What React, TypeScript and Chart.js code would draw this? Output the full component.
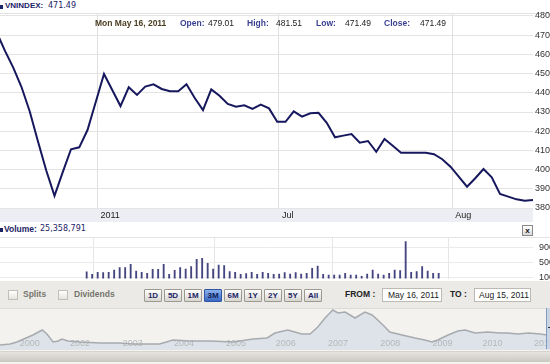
import React, { useEffect, useRef } from "react";
import { Chart, registerables } from "chart.js";
Chart.register(...registerables);

// ---------------- data ----------------
const tradingDates = [
  "2011-05-16","2011-05-17","2011-05-18","2011-05-19","2011-05-20","2011-05-23","2011-05-24","2011-05-25","2011-05-26","2011-05-27","2011-05-30","2011-05-31",
  "2011-06-01","2011-06-02","2011-06-03","2011-06-06","2011-06-07","2011-06-08","2011-06-09","2011-06-10","2011-06-13","2011-06-14","2011-06-15","2011-06-16","2011-06-17","2011-06-20","2011-06-21","2011-06-22","2011-06-23","2011-06-24","2011-06-27","2011-06-28","2011-06-29","2011-06-30",
  "2011-07-01","2011-07-04","2011-07-05","2011-07-06","2011-07-07","2011-07-08","2011-07-11","2011-07-12","2011-07-13","2011-07-14","2011-07-15","2011-07-18","2011-07-19","2011-07-20","2011-07-21","2011-07-22","2011-07-25","2011-07-26","2011-07-27","2011-07-28","2011-07-29",
  "2011-08-01","2011-08-02","2011-08-03","2011-08-04","2011-08-05","2011-08-08","2011-08-09","2011-08-10","2011-08-11","2011-08-12","2011-08-15"
];

const closes = [
  471.49, 461.8, 453.1, 443.0, 430.3, 414.6, 399.5, 386.3, 398.7, 410.6, 411.6, 420.6,
  435.2, 449.8, 441.5, 433.1, 442.9, 438.9, 443.2, 444.4, 442.0, 440.8, 440.8, 444.4, 437.3, 431.0, 441.8, 438.5, 434.2, 432.8, 433.5, 431.6, 433.8, 431.9,
  424.9, 424.9, 430.3, 427.6, 429.3, 429.6, 424.4, 416.8, 417.7, 418.5, 414.0, 414.9, 409.3, 415.9, 412.4, 408.8, 408.8, 408.8, 408.8, 408.0, 405.4,
  401.5, 396.3, 391.1, 395.5, 400.3, 396.0, 387.3, 385.9, 384.5, 383.8, 384.2
];

// volume, millions of shares
const volumes = [
  25.36, 18.9, 24.2, 23.4, 24.2, 30.2, 36.5, 36.5, 45.2, 27.6, 24.2, 21.6,
  32.1, 32.1, 45.2, 18.9, 29.4, 36.5, 32.9, 39.2, 58.4, 61.0, 47.9, 32.9, 43.4, 41.8, 26.0, 24.2, 18.9, 20.8, 24.2, 18.9, 24.2, 21.6,
  18.9, 19.7, 23.4, 19.7, 23.4, 19.7, 21.6, 34.7, 40.8, 18.9, 17.1, 17.1, 17.1, 21.6, 17.1, 17.1, 13.7, 19.7, 30.2, 19.7, 17.1,
  21.6, 30.2, 28.7, 105, 24.2, 26.0, 39.2, 27.6, 21.6, 21.6, null
];

const priceTicks = [380, 390, 400, 410, 420, 430, 440, 450, 460, 470, 480];
const monthLabels = ["2011", "Jul", "Aug"];
const volumeTicks = [10, 50, 90];
const volumeTickLabels = ["100", "500", "900"];

const navYears = [2000.61, 2000.81, 2000.94, 2001.25, 2001.43, 2001.52, 2001.64, 2001.74, 2001.81, 2001.93, 2002.16, 2002.55, 2002.93, 2003.19, 2003.5, 2003.7, 2003.96, 2004.29, 2004.68, 2005.12, 2005.51, 2005.78, 2005.93, 2006.18, 2006.45, 2006.61, 2006.76, 2006.9, 2007.05, 2007.15, 2007.29, 2007.48, 2007.67, 2007.81, 2007.92, 2008.06, 2008.15, 2008.39, 2008.64, 2008.83, 2008.97, 2009.08, 2009.28, 2009.47, 2009.61, 2009.8, 2010.05, 2010.28, 2010.43, 2010.63, 2010.83, 2011.06, 2011.2, 2011.37, 2011.62];
const navValues = [120, 150, 210, 420, 570, 450, 210, 240, 300, 240, 210, 180, 180, 150, 150, 150, 270, 240, 240, 210, 300, 330, 480, 570, 450, 450, 660, 930, 1170, 1080, 1110, 930, 1110, 1020, 870, 660, 510, 420, 330, 270, 210, 270, 420, 540, 570, 480, 510, 480, 480, 450, 480, 450, 420, 470, 384];
const navTickPos = [2001.19, 2002.16, 2003.18, 2004.17, 2005.18, 2006.14, 2007.15, 2008.16, 2009.17, 2010.14, 2011.13];
const navTickLabels = ["2000", "2002", "2003", "2004", "2005", "2006", "2007", "2008", "2009", "2010", "2011"];

const rangeButtons = ["1D", "5D", "1M", "3M", "6M", "1Y", "2Y", "5Y", "All"];
const selectedRange = "3M";

// ---------------- layout / style ----------------
const CW = 600; // canvas width (page clips at 550)
const PLOT_RIGHT = 533;
const X_MIN = 0.394;
const X_MAX = 65.0;
const GRID_SHIFT = 0.2;
const SANS = "'Liberation Sans', Arial, sans-serif";
const VERD = "'DejaVu Sans', Verdana, sans-serif";
const NAVY = "#1b2466";

const monthStartIdx = tradingDates
  .map((d, i) => (i > 0 && d.slice(5, 7) !== tradingDates[i - 1].slice(5, 7) ? i : -1))
  .filter((i) => i >= 0);

const axisBand = {
  id: "axisBand",
  beforeDraw(chart: any) {
    const { ctx, chartArea } = chart;
    ctx.save();
    ctx.fillStyle = "#eceef3";
    ctx.fillRect(chartArea.left, chartArea.bottom, chartArea.right - chartArea.left, 14);
    ctx.restore();
  },
};

const navLabelPlugin = {
  id: "navLabels",
  afterDatasetDraw(chart: any, args: any) {
    if (args.index !== 1) return;
    const xs = chart.scales.x;
    const ctx = chart.ctx;
    ctx.save();
    ctx.font = `9px ${SANS}`;
    ctx.fillStyle = "#b4b8bc";
    ctx.textAlign = "center";
    ctx.textBaseline = "middle";
    navTickPos.forEach((p, i) => ctx.fillText(navTickLabels[i], xs.getPixelForValue(p), 36));
    ctx.restore();
  },
};

const Txt = ({ x, y, s, st }: any) => (
  <div style={{ position: "absolute", left: x, top: y - 6, height: 12, lineHeight: "12px", whiteSpace: "nowrap", ...st }}>{s}</div>
);

const fitRight = (s: any) => {
  s.width = CW - PLOT_RIGHT;
  s.paddingTop = 0;
  s.paddingBottom = 0;
};

export default function App() {
  const mainRef = useRef<HTMLCanvasElement>(null);
  const volRef = useRef<HTMLCanvasElement>(null);
  const navRef = useRef<HTMLCanvasElement>(null);

  useEffect(() => {
    const monthTickObjs = () => monthStartIdx.map((i) => ({ value: i + GRID_SHIFT }));

    const main = new Chart(mainRef.current!, {
      type: "line",
      data: {
        datasets: [
          {
            data: closes.map((v, i) => ({ x: i, y: v })),
            borderColor: "#16175c",
            borderWidth: 2,
            pointRadius: 0,
            tension: 0,
            fill: false,
          },
        ],
      },
      options: {
        animation: false,
        responsive: false,
        devicePixelRatio: 1,
        layout: { padding: { top: 3, left: 0, right: 0, bottom: 0 } },
        plugins: { legend: { display: false }, tooltip: { enabled: false } },
        scales: {
          x: {
            type: "linear",
            min: X_MIN,
            max: X_MAX,
            afterBuildTicks: (s: any) => { s.ticks = monthTickObjs(); },
            afterFit: (s: any) => { s.height = 14; s.paddingLeft = 0; s.paddingRight = 0; },
            ticks: {
              autoSkip: false,
              maxRotation: 0,
              align: "start",
              labelOffset: 3,
              padding: 2,
              color: "#222",
              font: { family: SANS, size: 9 },
              callback: (_v: any, idx: number) => monthLabels[idx],
            },
            grid: { color: "#e0e0e0", drawTicks: false },
            border: { display: false },
          },
          y: {
            position: "right",
            min: 380,
            max: 481.5625,
            afterBuildTicks: (s: any) => { s.ticks = priceTicks.map((v) => ({ value: v })); },
            afterFit: fitRight,
            ticks: { padding: 2, color: "#333", font: { family: SANS, size: 9 } },
            grid: { color: "#e4e4e4", drawTicks: false },
            border: { display: false },
          },
        },
      } as any,
      plugins: [axisBand],
    });

    const vol = new Chart(volRef.current!, {
      type: "bar",
      data: {
        datasets: [
          {
            data: volumes.map((v, i) => ({ x: i, y: v })),
            backgroundColor: "#45457f",
            barThickness: 1.2,
          },
        ],
      },
      options: {
        animation: false,
        responsive: false,
        devicePixelRatio: 1,
        layout: { padding: { top: 0, left: 0, right: 0, bottom: 3.5 } },
        plugins: { legend: { display: false }, tooltip: { enabled: false } },
        scales: {
          x: {
            type: "linear",
            min: X_MIN,
            max: X_MAX,
            afterBuildTicks: (s: any) => { s.ticks = monthTickObjs(); },
            afterFit: (s: any) => { s.height = 0; s.paddingLeft = 0; s.paddingRight = 0; },
            ticks: { display: false },
            grid: { color: "#e6e6e6", drawTicks: false },
            border: { display: false },
          },
          y: {
            position: "right",
            min: 7.9,
            max: 114.5,
            afterBuildTicks: (s: any) => { s.ticks = volumeTicks.map((v) => ({ value: v })); },
            afterFit: fitRight,
            ticks: {
              padding: 6,
              color: "#333",
              font: { family: SANS, size: 9 },
              callback: (_v: any, idx: number) => volumeTickLabels[idx] + "M",
            },
            grid: { color: "#ebebeb", drawTicks: false },
            border: { display: false },
          },
        },
      } as any,
    });

    const nav = new Chart(navRef.current!, {
      type: "line",
      data: {
        datasets: [
          {
            data: navYears.map((x, i) => ({ x, y: navValues[i] })),
            borderColor: "#a7abaf",
            borderWidth: 1.5,
            pointRadius: 0,
            tension: 0,
            fill: false,
          },
          {
            data: navYears.map((x, i) => ({ x, y: navValues[i] })),
            borderWidth: 0,
            pointRadius: 0,
            tension: 0,
            fill: "start",
            backgroundColor: "#dde3e8",
          },
        ],
      },
      options: {
        animation: false,
        responsive: false,
        devicePixelRatio: 1,
        layout: { padding: 0 },
        plugins: { legend: { display: false }, tooltip: { enabled: false } },
        scales: {
          x: { type: "linear", display: false, min: 2000.613, max: 2000.613 + CW / 51.7 },
          y: { display: false, min: -30, max: 1230 },
        },
      } as any,
      plugins: [navLabelPlugin],
    });

    return () => {
      main.destroy();
      vol.destroy();
      nav.destroy();
    };
  }, []);

  const btnBase: any = {
    position: "absolute",
    top: 289,
    width: 18,
    height: 13,
    boxSizing: "border-box",
    border: "1px solid #9c9991",
    borderRadius: 1,
    font: `bold 8px ${SANS}`,
    lineHeight: "11px",
    textAlign: "center",
    color: NAVY,
  };

  return (
    <div style={{ position: "absolute", left: 0, top: 0, width: 550, height: 364, overflow: "hidden", background: "#fff", fontFamily: SANS }}>
      {/* header */}
      <div style={{ position: "absolute", left: 0, top: 5, width: 3, height: 4, background: NAVY }} />
      <Txt x={5} y={7} s="VNINDEX:" st={{ font: `bold 8px ${SANS}`, color: NAVY }} />
      <Txt x={48} y={7} s="471.49" st={{ font: `8px ${VERD}`, color: NAVY }} />
      <div style={{ position: "absolute", left: 0, top: 13, width: 550, height: 1, background: "#e2e2e2" }} />

      {/* main chart */}
      <canvas ref={mainRef} width={CW} height={212} style={{ position: "absolute", left: 0, top: 10 }} />

      {/* info row */}
      <Txt x={95} y={24} s="Mon May 16, 2011" st={{ font: `bold 8.5px ${SANS}`, color: "#4b3d22" }} />
      <Txt x={180} y={24} s="Open:" st={{ font: `bold 8.5px ${SANS}`, color: "#3a3f92" }} />
      <Txt x={208} y={24} s="479.01" st={{ font: `8.5px ${SANS}`, color: "#222" }} />
      <Txt x={247} y={24} s="High:" st={{ font: `bold 8.5px ${SANS}`, color: "#3a3f92" }} />
      <Txt x={276} y={24} s="481.51" st={{ font: `8.5px ${SANS}`, color: "#222" }} />
      <Txt x={316} y={24} s="Low:" st={{ font: `bold 8.5px ${SANS}`, color: "#3a3f92" }} />
      <Txt x={345} y={24} s="471.49" st={{ font: `8.5px ${SANS}`, color: "#222" }} />
      <Txt x={384} y={24} s="Close:" st={{ font: `bold 8.5px ${SANS}`, color: "#3a3f92" }} />
      <Txt x={420} y={24} s="471.49" st={{ font: `8.5px ${SANS}`, color: "#222" }} />

      {/* volume header */}
      <div style={{ position: "absolute", left: 0, top: 228, width: 3, height: 4, background: NAVY }} />
      <Txt x={4} y={230} s="Volume:" st={{ font: `bold 8.5px ${SANS}`, color: NAVY }} />
      <Txt x={40} y={230} s="25,358,791" st={{ font: `8px ${VERD}`, color: NAVY }} />
      <div style={{ position: "absolute", left: 522, top: 225, width: 11, height: 11, boxSizing: "border-box", border: "1px solid #8a8a8a", background: "linear-gradient(#ffffff,#d8d8d8)", font: `bold 8px ${SANS}`, lineHeight: "9px", textAlign: "center", color: "#111" }}>x</div>
      <div style={{ position: "absolute", left: 0, top: 237, width: 550, height: 1, background: "#e4e4e4" }} />

      {/* volume chart */}
      <canvas ref={volRef} width={CW} height={44} style={{ position: "absolute", left: 0, top: 238 }} />

      {/* control bar */}
      <div style={{ position: "absolute", left: 0, top: 281, width: 550, height: 27, background: "#ebeae6" }} />
      <div style={{ position: "absolute", left: 8, top: 290, width: 10, height: 10, boxSizing: "border-box", border: "1px solid #c2bfb8", background: "linear-gradient(#ffffff,#e6e4df)" }} />
      <Txt x={23} y={295} s="Splits" st={{ font: `bold 8.5px ${SANS}`, color: "#77756d" }} />
      <div style={{ position: "absolute", left: 58, top: 290, width: 10, height: 10, boxSizing: "border-box", border: "1px solid #c2bfb8", background: "linear-gradient(#ffffff,#e6e4df)" }} />
      <Txt x={74} y={295} s="Dividends" st={{ font: `bold 8.5px ${SANS}`, color: "#77756d" }} />
      {rangeButtons.map((b, k) => (
        <div
          key={b}
          style={{
            ...btnBase,
            left: 144 + k * 20,
            background: b === selectedRange ? "linear-gradient(#8db2ec,#3a68c4)" : "linear-gradient(#ffffff,#d8d6d0)",
            border: b === selectedRange ? "1px solid #2f55a0" : btnBase.border,
            color: b === selectedRange ? "#0c1d55" : NAVY,
          }}
        >
          {b}
        </div>
      ))}
      <Txt x={345} y={295} s="FROM :" st={{ font: `bold 8.5px ${SANS}`, color: "#222" }} />
      <div style={{ position: "absolute", left: 382, top: 288, width: 60, height: 14, boxSizing: "border-box", border: "1px solid #bdbab3", background: "#fff", font: `8.5px ${SANS}`, lineHeight: "12px", paddingLeft: 5, color: "#222", whiteSpace: "nowrap" }}>May 16, 2011</div>
      <Txt x={450} y={295} s="TO :" st={{ font: `bold 8.5px ${SANS}`, color: "#222" }} />
      <div style={{ position: "absolute", left: 474, top: 288, width: 57, height: 14, boxSizing: "border-box", border: "1px solid #bdbab3", background: "#fff", font: `8.5px ${SANS}`, lineHeight: "12px", paddingLeft: 4, color: "#222", whiteSpace: "nowrap" }}>Aug 15, 2011</div>

      {/* navigator */}
      <div style={{ position: "absolute", left: 0, top: 308, width: 550, height: 42, background: "#f3f2ef", borderTop: "1px solid #dcdad4", boxSizing: "border-box" }} />
      <canvas ref={navRef} width={CW} height={42} style={{ position: "absolute", left: 0, top: 308 }} />
      <div style={{ position: "absolute", left: 546, top: 308, width: 8, height: 41, boxSizing: "border-box", borderLeft: "1px solid #7f9bc0", background: "#c9d5e3" }} />
      <div style={{ position: "absolute", left: 548, top: 327, width: 3, height: 1, background: "#333" }} />

      {/* scrollbar */}
      <div style={{ position: "absolute", left: 0, top: 350, width: 550, height: 14, background: "#f4f3f0" }} />
      <div style={{ position: "absolute", left: 0, top: 351, width: 550, height: 11, background: "linear-gradient(#e6e4df,#cbc8c1)", borderTop: "1px solid #d6d3cc", boxSizing: "border-box" }} />
    </div>
  );
}
